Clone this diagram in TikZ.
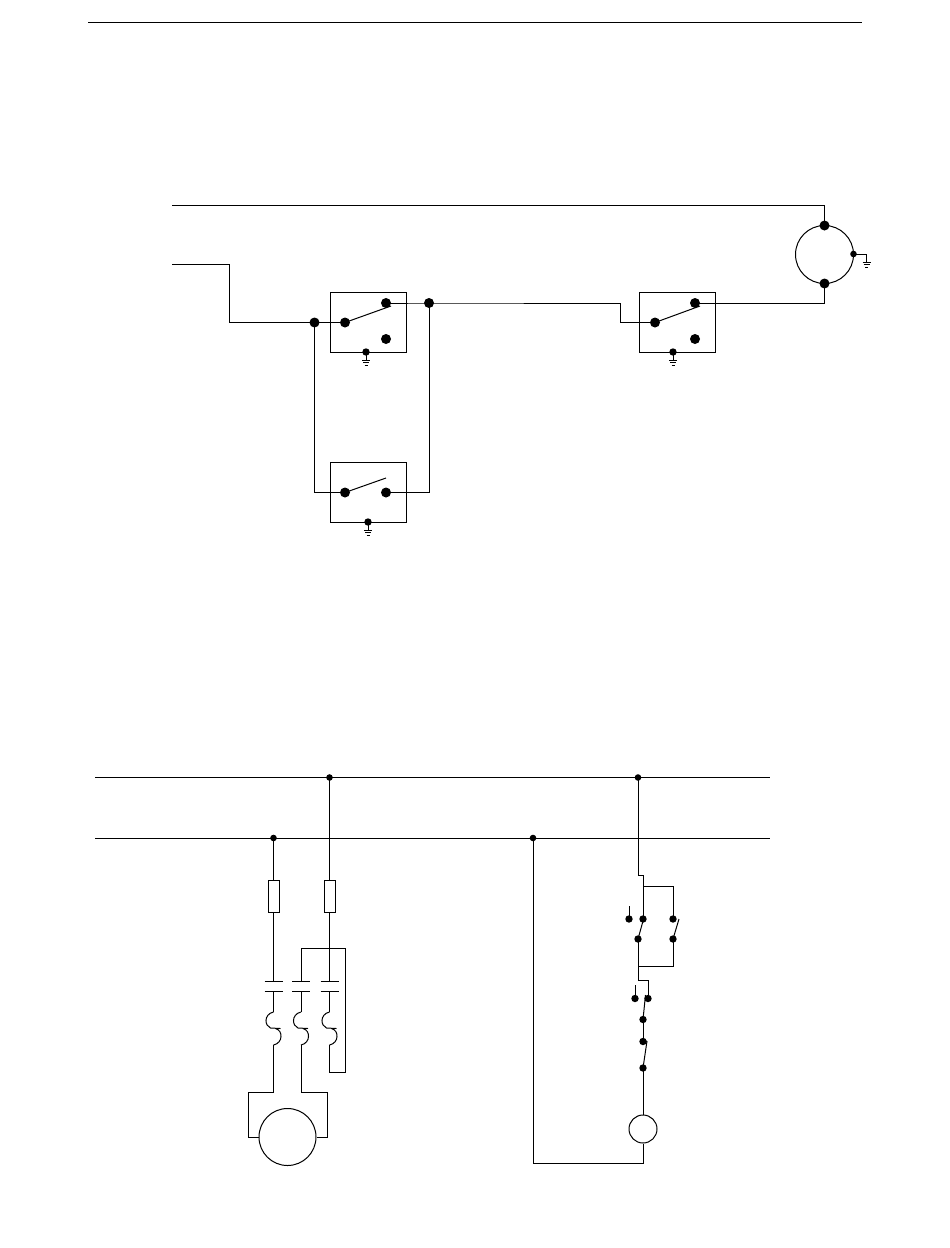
\documentclass[tikz,border=0pt]{standalone}
\tikzset{
  wire/.style={line width=1pt,line join=miter},
  bigdot/.style={circle,fill=black,draw=none,inner sep=0pt,minimum size=10pt},
  meddot/.style={circle,fill=black,draw=none,inner sep=0pt,minimum size=7.4pt},
  smalldot/.style={circle,fill=black,draw=none,inner sep=0pt,minimum size=6.6pt},
  swbox/.style={draw,line width=1pt,fill=none,inner sep=0pt,minimum width=76pt,minimum height=60pt},
  fuse/.style={draw,line width=1pt,inner sep=0pt,minimum width=11pt,minimum height=32pt},
  machine/.style={draw,circle,line width=1pt,inner sep=0pt},
  pics/earth/.style={code={
    \draw[line width=0.8pt] (0,0) -- (0,8);
    \draw[line width=0.8pt] (-4,8) -- (4,8);
    \draw[line width=0.7pt] (-3,10.5) -- (3,10.5);
    \draw[line width=0.7pt] (-1.5,13) -- (1.5,13);
  }},
  pics/overload/.style={code={
    \draw[wire] (0,0) .. controls (-5,1) and (-7.5,5) .. (-7.5,8.5)
       .. controls (-7.5,12) and (-6,14.5) .. (-3,16) -- (7,16.5);
    \draw[wire] (2,16.5) .. controls (6.5,18) and (7.5,21) .. (7.5,24.5)
       .. controls (7.5,28) and (5,32) .. (0,33);
  }}
}
\begin{document}
\begin{tikzpicture}[x=1pt,y=-1pt]
\useasboundingbox (0,0) rectangle (950,1248);
\fill[white] (0,0) rectangle (950,1248);

% header rule
\coordinate (ruleL) at (88,22.5); \coordinate (ruleR) at (862,22.5);
\draw[wire] (ruleL) -- (ruleR);

%%% Upper circuit
\node[swbox] (box1) at (368,322) {};
\node[swbox] (box2) at (677,322) {};
\node[swbox] (box3) at (368,492.5) {};

\node[bigdot] (j1) at (314.5,322.5) {};
\node[bigdot] (a1) at (345,322.5) {};
\node[bigdot] (b1) at (386,303) {};
\node[bigdot] (c1) at (386,339) {};
\node[bigdot] (j2) at (429,303) {};
\node[bigdot] (a2) at (655,322.5) {};
\node[bigdot] (b2) at (695,303) {};
\node[bigdot] (c2) at (695,339) {};
\node[bigdot] (a3) at (345,492.5) {};
\node[bigdot] (b3) at (386,492.5) {};
\node[meddot] (g1) at (366,352) {};
\node[meddot] (g2) at (673,352) {};
\node[meddot] (g3) at (368,522) {};
\pic at (g1) {earth};
\pic at (g2) {earth};
\pic at (g3) {earth};

\coordinate (t1) at (391,306);
\coordinate (t2) at (700,306);
\coordinate (t3) at (386,478);
\draw[wire] (a1.center) -- (t1);
\draw[wire] (a2.center) -- (t2);
\draw[wire] (a3.center) -- (t3);

\node[machine,minimum size=58pt] (lamp) at (824.5,254.5) {};
\node[bigdot] (lt) at (824.5,225.5) {};
\node[bigdot] (lb) at (824.5,283.5) {};
\node[smalldot] (lr) at (853.5,254) {};
\coordinate (lg) at (866.5,254);
\pic at (866.5,254) {earth};
\draw[wire] (lr.center) -- (lg);

\coordinate (in1) at (172,205.5);
\coordinate (in2) at (172,264.5);
\draw[wire] (in1) -- (lt.center |- in1) -- (lt.center);
\draw[wire] (in2) -- (229.5,264.5) -- (229.5,322.5) -- (j1.center) -- (a1.center);
\draw[wire] (j1.center) -- (314.5,492.5) -- (a3.center);
\draw[wire] (b3.center) -- (429,492.5) -- (j2.center);
\draw[wire] (b1.center) -- (j2.center) -- (620,303) -- (620,322.5) -- (a2.center);
\draw[wire] (b2.center) -- (824.5,303) -- (lb.center);

%%% Lower circuit
\coordinate (busAL) at (95,777.5); \coordinate (busAR) at (770,777.5);
\coordinate (busBL) at (95,838); \coordinate (busBR) at (770,838);
\draw[wire] (busAL) -- (busAR);
\draw[wire] (busBL) -- (busBR);
\node[smalldot] (n1) at (329.5,777.5) {};
\node[smalldot] (n2) at (638,777.5) {};
\node[smalldot] (n3) at (273.5,838) {};
\node[smalldot] (n4) at (533,838) {};

\node[fuse] (f1) at (273.5,896) {};
\node[fuse] (f2) at (329.5,896) {};
\draw[wire] (n3.center) -- (f1.north);
\draw[wire] (n1.center) -- (f2.north);

% contactor
\coordinate (k1a) at (273.5,981); \coordinate (k1b) at (273.5,991);
\coordinate (k2a) at (301,981); \coordinate (k2b) at (301,991);
\coordinate (k3a) at (329.5,981); \coordinate (k3b) at (329.5,991);
\foreach \c in {k1a,k1b} \draw[line width=1pt] ([xshift=-9pt]\c) -- ([xshift=9pt]\c);
\foreach \c in {k2a,k2b} \draw[line width=1pt] ([xshift=-9pt]\c) -- ([xshift=9pt]\c);
\foreach \c in {k3a,k3b} \draw[line width=1pt] ([xshift=-9pt]\c) -- ([xshift=9pt]\c);
\draw[wire] (f1.south) -- (k1a);
\draw[wire] (f2.south) -- (k3a);
\draw[wire] (k2a) -- (301,948) -- (345,948) -- (345,1072) -- (329.5,1072) -- (329.5,1045);

% overload elements
\draw[wire] (k1b) -- (273.5,1012); \pic at (273.5,1012) {overload};
\draw[wire] (k2b) -- (301,1012); \pic at (301,1012) {overload};
\draw[wire] (k3b) -- (329.5,1012); \pic at (329.5,1012) {overload};

% motor
\node[machine,minimum size=57pt] (motor) at (287.5,1137) {};
\draw[wire] (273.5,1045) -- (273.5,1092) -- (248,1092) -- (248,1137) -- (motor.west);
\draw[wire] (301,1045) -- (301,1092) -- (327,1092) -- (327,1137) -- (motor.east);

% control circuit
\node[meddot] (s1) at (643,919) {};
\node[meddot] (s2) at (673,919) {};
\node[meddot] (s3) at (629,919) {};
\node[meddot] (s4) at (638,939) {};
\node[meddot] (s5) at (673,939) {};
\node[meddot] (s6) at (635,998.5) {};
\node[meddot] (s7) at (648,998.5) {};
\node[meddot] (s8) at (643,1019.5) {};
\node[meddot] (s9) at (643,1041.5) {};
\node[meddot] (s10) at (643,1068) {};
\node[machine,minimum size=28pt] (coil) at (643,1129) {};

\draw[wire] (n2.center) -- (638,875) -- (643,875) -- (s1.center);
\draw[wire] (643,886) -- (673,886) -- (s2.center);
\draw[wire] (s3.center) -- (629,906);
\draw[wire] (s4.center) -- (643,921);
\draw[wire] (s5.center) -- (679,919);
\draw[wire] (s4.center) -- (638,966) -- (673,966) -- (s5.center);
\draw[wire] (638,966) -- (638,980) -- (648,980) -- (s7.center);
\draw[wire] (s6.center) -- (635,985);
\draw[wire] (645.5,995) -- (s8.center);
\draw[wire] (s8.center) -- (s9.center);
\draw[wire] (647,1041) -- (s10.center);
\draw[wire] (s9.center) -- (647,1041);
\draw[wire] (s10.center) -- (coil.north);
\draw[wire] (coil.south) -- (643,1163) -- (533,1163) -- (n4.center);
\end{tikzpicture}
\end{document}
